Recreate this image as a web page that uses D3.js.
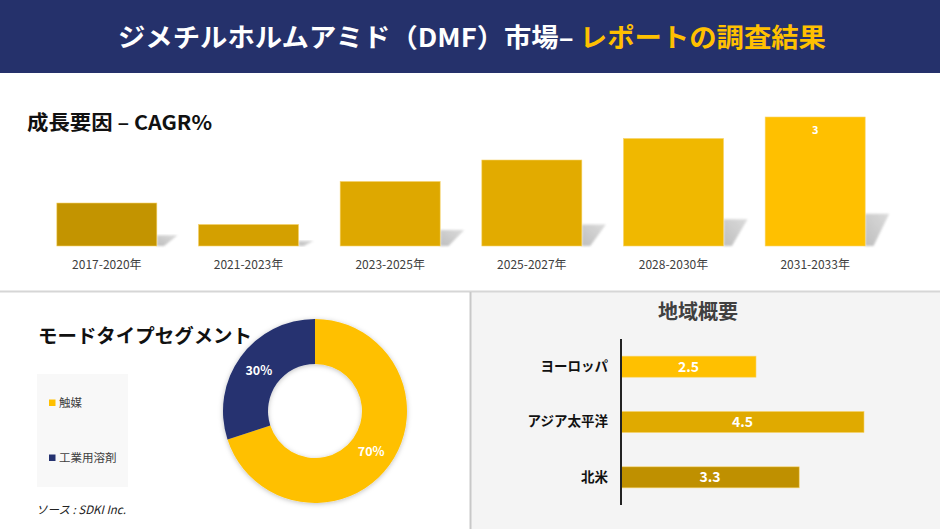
<!DOCTYPE html>
<html>
<head>
<meta charset="utf-8">
<script src="https://cdn.jsdelivr.net/npm/d3@7"></script>
<style>
  html, body { margin: 0; padding: 0; background: #ffffff; }
  svg { display: block; }
  text { font-family: "Noto Sans CJK JP", "Noto Sans", sans-serif; }
</style>
</head>
<body>
<svg id="chart" width="940" height="529"></svg>
<script>
// ---- data ----
const titleWhite = "ジメチルホルムアミド（DMF）市場– ";
const titleYellow = "レポートの調査結果";
const growthTitle = "成長要因 – CAGR%";
const growthCategories = ["2017-2020年", "2021-2023年", "2023-2025年", "2025-2027年", "2028-2030年", "2031-2033年"];
const growthValues = [1.0, 0.5, 1.5, 2.0, 2.5, 3.0];
const growthLabels = ["", "", "", "", "", "3"];
const growthColors = ["#c39400", "#d4a000", "#dea800", "#e2ab00", "#f0b800", "#ffc000"];

const segmentTitle = "モードタイプセグメント";
const segmentCategories = ["触媒", "工業用溶剤"];
const segmentValues = [70, 30];
const segmentColors = ["#ffc000", "#253270"];

const regionTitle = "地域概要";
const regionCategories = ["ヨーロッパ", "アジア太平洋", "北米"];
const regionValues = [2.5, 4.5, 3.3];
const regionColors = ["#ffc000", "#e0aa00", "#bf9000"];

const sourceText = "ソース : SDKI Inc.";

// ---- drawing ----
const svg = d3.select("#chart");
const defs = svg.append("defs");

const sg = defs.append("linearGradient").attr("id", "shadowGrad")
  .attr("x1", "0").attr("y1", "1").attr("x2", "1").attr("y2", "0");
sg.append("stop").attr("offset", "0").attr("stop-color", "#b8b8b8");
sg.append("stop").attr("offset", "1").attr("stop-color", "#d8d8d8");
defs.append("filter").attr("id", "blur1").append("feGaussianBlur").attr("stdDeviation", 1.2);

const ds = defs.append("filter").attr("id", "donutShadow")
  .attr("x", "-20%").attr("y", "-20%").attr("width", "140%").attr("height", "140%");
ds.append("feDropShadow").attr("dx", 0).attr("dy", 1).attr("stdDeviation", 2.5)
  .attr("flood-color", "#000").attr("flood-opacity", 0.25);

// header
svg.append("rect").attr("x", 0).attr("y", 0).attr("width", 940).attr("height", 73).attr("fill", "#25316b");
const title = svg.append("text").attr("x", 472).attr("y", 47)
  .attr("text-anchor", "middle").attr("font-size", 26).attr("font-weight", "bold")
  .attr("textLength", 708).attr("lengthAdjust", "spacingAndGlyphs");
title.append("tspan").attr("fill", "#ffffff").text(titleWhite);
title.append("tspan").attr("fill", "#ffc000").text(titleYellow);

// panels and separators
svg.append("rect").attr("x", 471).attr("y", 292).attr("width", 469).attr("height", 237).attr("fill", "#f4f4f4");
svg.append("line").attr("x1", 0).attr("x2", 940).attr("y1", 291.5).attr("y2", 291.5)
  .attr("stroke", "#d6d6d6").attr("stroke-width", 2);
svg.append("line").attr("x1", 470.5).attr("x2", 470.5).attr("y1", 292).attr("y2", 529)
  .attr("stroke", "#c8c8c8").attr("stroke-width", 2);

// ---- growth bar chart ----
svg.append("text").attr("x", 27).attr("y", 130).attr("font-size", 20).attr("font-weight", "bold")
  .attr("fill", "#111").attr("textLength", 185).attr("lengthAdjust", "spacingAndGlyphs").text(growthTitle);

const xG = d3.scaleBand().domain(growthCategories).range([36, 886]).paddingInner(0.294).paddingOuter(0.147);
const yG = d3.scaleLinear().domain([0, 3]).range([246, 117]);
const base = yG(0);

const gBars = svg.append("g");
growthCategories.forEach((c, i) => {
  const x0 = xG(c), w = xG.bandwidth();
  const top = yG(growthValues[i]);
  const h = base - top;
  const r = x0 + w;
  const sh = h * 0.25;
  const sw = Math.min(sh + 10, 24);
  gBars.append("polygon")
    .attr("points", [[r, base], [r, base - sh], [r + sw, base - sh], [r + sw * 0.35, base]].map(p => p.join(",")).join(" "))
    .attr("fill", "url(#shadowGrad)").attr("filter", "url(#blur1)").attr("opacity", 0.9);
});
gBars.selectAll("rect.bar").data(growthValues).join("rect").attr("class", "bar")
  .attr("x", (d, i) => xG(growthCategories[i]))
  .attr("y", d => yG(d))
  .attr("width", xG.bandwidth())
  .attr("height", d => base - yG(d))
  .attr("fill", (d, i) => growthColors[i])
  .attr("stroke", "#f7d36a").attr("stroke-width", 0.6);
gBars.selectAll("text.val").data(growthValues).join("text").attr("class", "val")
  .attr("x", (d, i) => xG(growthCategories[i]) + xG.bandwidth() / 2)
  .attr("y", d => yG(d) + 17)
  .attr("text-anchor", "middle").attr("font-size", 11).attr("font-weight", "bold").attr("fill", "#fff")
  .text((d, i) => growthLabels[i]);
gBars.selectAll("text.cat").data(growthCategories).join("text").attr("class", "cat")
  .attr("x", d => xG(d) + xG.bandwidth() / 2)
  .attr("y", 269)
  .attr("text-anchor", "middle").attr("font-size", 12).attr("fill", "#404040")
  .text(d => d);

// ---- donut ----
svg.append("text").attr("x", 38).attr("y", 343).attr("font-size", 19).attr("font-weight", "bold")
  .attr("fill", "#111").attr("textLength", 214).attr("lengthAdjust", "spacingAndGlyphs").text(segmentTitle);

svg.append("rect").attr("x", 37).attr("y", 374).attr("width", 91).attr("height", 113).attr("fill", "#f8f8f8");
const legendY = [403, 458];
segmentCategories.forEach((c, i) => {
  svg.append("rect").attr("x", 49).attr("y", legendY[i] - 3.5).attr("width", 6.5).attr("height", 6.5).attr("fill", segmentColors[i]);
  svg.append("text").attr("x", 59).attr("y", legendY[i] + 4).attr("font-size", 11.5).attr("fill", "#404040").text(c);
});

const cx = 315, cy = 411;
const pie = d3.pie().sort(null).value(d => d);
const arcs = pie(segmentValues);
const arc = d3.arc().innerRadius(47).outerRadius(92);
const gD = svg.append("g").attr("transform", `translate(${cx},${cy})`);
gD.append("g").attr("filter", "url(#donutShadow)").selectAll("path").data(arcs).join("path")
  .attr("d", arc).attr("fill", (d, i) => segmentColors[i]);
const labelArc = d3.arc().innerRadius(69.5).outerRadius(69.5);
gD.selectAll("text").data(arcs).join("text")
  .attr("transform", d => `translate(${labelArc.centroid(d)})`)
  .attr("text-anchor", "middle").attr("dy", "0.35em")
  .attr("font-size", 12.5).attr("font-weight", "bold").attr("fill", "#fff")
  .text(d => d.data + "%");

svg.append("text").attr("x", 36).attr("y", 514).attr("font-size", 11.5).attr("font-style", "italic")
  .attr("fill", "#222").text(sourceText);

// ---- region bars ----
svg.append("text").attr("x", 698).attr("y", 319).attr("text-anchor", "middle")
  .attr("font-size", 20).attr("font-weight", "bold").attr("fill", "#404040").text(regionTitle);

const xR = d3.scaleLinear().domain([0, 4.5]).range([621, 864]);
const yR = d3.scaleBand().domain(regionCategories).range([339, 505]).paddingInner(0.62).paddingOuter(0.31);

svg.append("g").selectAll("rect").data(regionValues).join("rect")
  .attr("x", xR(0)).attr("y", (d, i) => yR(regionCategories[i]))
  .attr("width", d => xR(d) - xR(0)).attr("height", yR.bandwidth())
  .attr("fill", (d, i) => regionColors[i]).attr("stroke", "#f7d36a").attr("stroke-width", 0.6);
svg.append("g").selectAll("text").data(regionValues).join("text")
  .attr("x", d => (xR(0) + xR(d)) / 2)
  .attr("y", (d, i) => yR(regionCategories[i]) + yR.bandwidth() / 2)
  .attr("dy", "0.36em").attr("text-anchor", "middle")
  .attr("font-size", 14).attr("font-weight", "bold").attr("fill", "#fff")
  .text(d => d.toFixed(1));

const yAxis = d3.axisLeft(yR).tickSize(0).tickPadding(13);
const ga = svg.append("g").attr("transform", `translate(${xR(0)},0)`).call(yAxis);
ga.select(".domain").attr("stroke", "#222").attr("stroke-width", 2)
  .attr("d", `M0,339V505`);
ga.selectAll(".tick text").attr("font-size", 13.5).attr("font-weight", "bold").attr("fill", "#111")
  .attr("font-family", "'Noto Sans CJK JP', sans-serif");
</script>
</body>
</html>
